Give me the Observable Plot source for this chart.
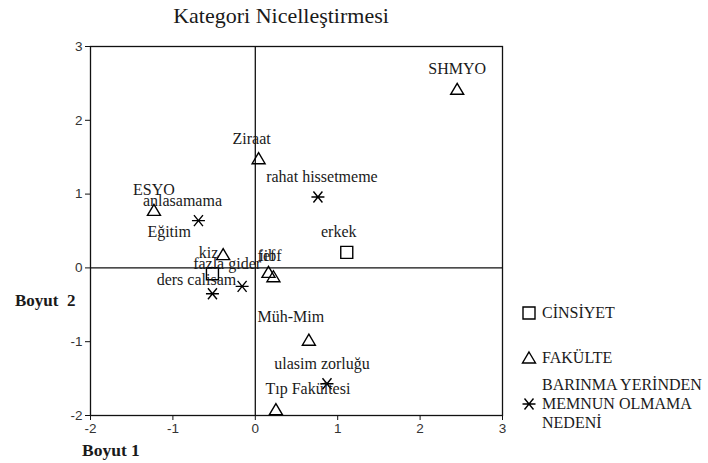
<!DOCTYPE html>
<html>
<head>
<meta charset="utf-8">
<script src="https://cdn.jsdelivr.net/npm/d3@7"></script>
<script src="https://cdn.jsdelivr.net/npm/@observablehq/plot@0.6"></script>
<style>
  html, body { margin: 0; padding: 0; background: #fff; }
  #chart { width: 708px; height: 463px; }
</style>
</head>
<body>
<div id="chart"></div>
<script>
// ---- Data ----
const titleText = "Kategori Nicelleştirmesi";
const xTicks = [-2, -1, 0, 1, 2, 3];
const yTicks = [-2, -1, 0, 1, 2, 3];

const genders = ["erkek", "kiz"];
const genderDim1 = [1.11, -0.52];
const genderDim2 = [0.21, -0.08];

const faculties = ["SHMYO", "Ziraat", "ESYO", "Eğitim", "fef", "iibf", "Müh-Mim", "Tıp Fakültesi"];
const facultyDim1 = [2.45, 0.04, -1.23, -0.39, 0.16, 0.22, 0.65, 0.25];
const facultyDim2 = [2.42, 1.48, 0.78, 0.18, -0.06, -0.12, -0.98, -1.92];

const reasons = ["rahat hissetmeme", "anlasamama", "fazla gider", "ders calisam", "ulasim zorluğu"];
const reasonDim1 = [0.76, -0.69, -0.16, -0.52, 0.87];
const reasonDim2 = [0.96, 0.64, -0.25, -0.35, -1.57];

const legendLabels = [["CİNSİYET"], ["FAKÜLTE"], ["BARINMA YERİNDEN", "MEMNUN OLMAMA", "NEDENİ"]];

// ---- Build tables ----
const mk = (names, d1, d2, group) => names.map((n, i) => ({ name: n, d1: d1[i], d2: d2[i], group }));
const genderData = mk(genders, genderDim1, genderDim2, 0);
const facultyData = mk(faculties, facultyDim1, facultyDim2, 1);
const reasonData = mk(reasons, reasonDim1, reasonDim2, 2);
const all = [...genderData, ...facultyData, ...reasonData];

// label nudges (px) to mimic the reference label placement
const nudge = {
  "Ziraat": [-7, -20], "anlasamama": [-16, -20], "Eğitim": [-54, -23], "kiz": [-4, -21],
  "erkek": [-8, -21], "rahat hissetmeme": [4, -20], "fazla gider": [-15, -22],
  "ders calisam": [-16, -14], "Müh-Mim": [-18, -23], "ulasim zorluğu": [-5, -20],
  "Tıp Fakültesi": [32, -21], "fef": [-2, -16], "iibf": [-3, -21]
};

// ---- Custom symbols ----
const squareSym = { draw(ctx) { ctx.rect(-6, -6, 12, 12); } };
const triSym = { draw(ctx) { ctx.moveTo(0, -6); ctx.lineTo(6.5, 5); ctx.lineTo(-6.5, 5); ctx.closePath(); } };
const starSym = { draw(ctx) {
  ctx.moveTo(-6.5, 0); ctx.lineTo(6.5, 0);
  ctx.moveTo(-4.5, -5.5); ctx.lineTo(4.5, 5.5);
  ctx.moveTo(-4.5, 5.5); ctx.lineTo(4.5, -5.5);
} };
const symbols = [squareSym, triSym, starSym];

const serif = "'Liberation Serif', 'Times New Roman', serif";
const sans = "'Liberation Sans', Arial, sans-serif";
const ink = "#1a1a1a";
const fmt = d => String(d);

const plot = Plot.plot({
  width: 708,
  height: 463,
  marginLeft: 90,
  marginRight: 206,
  marginTop: 46,
  marginBottom: 48,
  style: { fontFamily: sans, fontSize: "13px", color: "#333", background: "#fff", overflow: "visible" },
  x: { domain: [-2, 3], ticks: xTicks, label: null, tickFormat: fmt },
  y: { domain: [-2, 3], ticks: yTicks, label: null, tickFormat: fmt },
  marks: [
    Plot.frame({ stroke: "#111", strokeWidth: 1.3 }),
    Plot.ruleX([0], { stroke: "#111", strokeWidth: 1.3 }),
    Plot.ruleY([0], { stroke: "#111", strokeWidth: 1.3 }),
    Plot.axisX({ ticks: xTicks, tickFormat: fmt, tickSize: 5, tickPadding: 3, stroke: "#111", fill: "#333", fontSize: 13.5 }),
    Plot.axisY({ ticks: yTicks, tickFormat: fmt, tickSize: 5, tickPadding: 3, stroke: "#111", fill: "#333", fontSize: 13.5 }),
    ...[genderData, facultyData, reasonData].map((data, g) =>
      Plot.dot(data, { x: "d1", y: "d2", symbol: symbols[g], r: 1, stroke: "#000", strokeWidth: 1.4, fill: "none" })
    ),
    ...all.map(d => {
      const [dx, dy] = nudge[d.name] || [0, -20];
      return Plot.text([d], { x: "d1", y: "d2", text: "name", dx, dy, fontFamily: serif, fontSize: 16, fill: ink, textAnchor: "middle", lineAnchor: "middle" });
    })
  ]
});

document.getElementById("chart").appendChild(plot);

// ---- Title, axis titles, legend appended to the SVG ----
const svg = d3.select(plot);
const addText = (x, y, str, size, anchor, bold) =>
  svg.append("text").attr("x", x).attr("y", y)
    .style("text-anchor", anchor).style("font-family", serif).style("font-size", size + "px")
    .style("font-weight", bold ? "bold" : "normal").style("white-space", "pre")
    .attr("fill", ink).text(str);

addText(281, 23, titleText, 22, "middle", false);
addText(15, 306, "Boyut  2", 17, "start", true);
addText(82, 456, "Boyut 1", 17.5, "start", true);

const legendSymY = [313, 358, 404];
const legendTextY = [[318], [363], [390, 409, 428]];
legendLabels.forEach((lines, g) => {
  svg.append("path").attr("transform", `translate(529,${legendSymY[g]})`)
    .attr("d", d3.symbol(symbols[g])()).attr("fill", "none").attr("stroke", "#000").attr("stroke-width", 1.4);
  lines.forEach((line, j) => addText(542, legendTextY[g][j], line, 16, "start", false));
});
</script>
</body>
</html>
